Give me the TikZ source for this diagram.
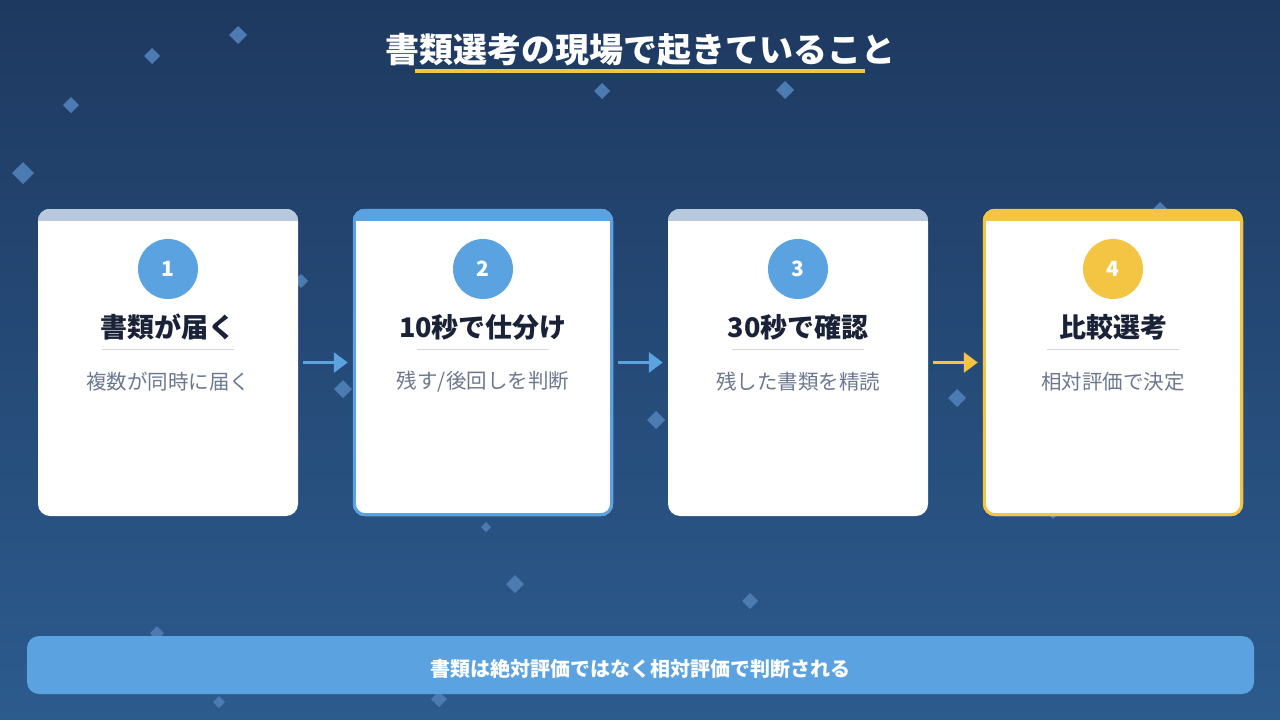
\documentclass[tikz,border=0pt]{standalone}
\usepackage{fontspec}
\setmainfont{Noto Sans CJK JP}
\usetikzlibrary{arrows.meta,shapes.geometric}
\definecolor{bgtop}{HTML}{1E3960}
\definecolor{bgbot}{HTML}{2C5B8E}
\definecolor{accblue}{HTML}{5AA3E0}
\definecolor{accyel}{HTML}{F4C543}
\definecolor{bargray}{HTML}{B9C9DD}
\definecolor{titledark}{HTML}{1A2238}
\definecolor{subgray}{HTML}{6B7890}
\definecolor{sepgray}{HTML}{D3D8E0}
\definecolor{diacol}{HTML}{4C7BB2}
\tikzset{
  cardbox/.style={draw=none, fill=white, rounded corners=12pt, minimum width=260pt, minimum height=307pt, inner sep=0pt},
  numcircle/.style={circle, minimum size=60pt, inner sep=0pt, text=white, font=\bfseries\fontsize{21}{23}\selectfont},
  cardtitle/.style={text=titledark, font=\bfseries\fontsize{27}{29}\selectfont, inner sep=0pt},
  cardsub/.style={text=subgray, font=\fontsize{20.5}{22}\selectfont, inner sep=0pt},
  flowarrow/.style={line width=3pt, -{Triangle[length=14pt,width=20pt]}},
  dia/.style={fill=diacol}
}
\begin{document}
\begin{tikzpicture}[x=1pt,y=-1pt]
\useasboundingbox (0,0) rectangle (1280,720);
\shade[top color=bgtop, bottom color=bgbot] (0,0) rectangle (1280,720);
% diamonds
\foreach \dx/\dy/\r in {238/35/9,152/56/8,71/105/8,23/173/11,602/91/8,785/90/9,1160/210/8,301/281/7,343/389/9,656/420/9,957/398/9,486/527/5,515/584/9,750/601/8,157/633/7,219/702/6,439/699/8,1053/511/8}
  \fill[dia] (\dx,\dy) +(0,-\r) -- +(\r,0) -- +(0,\r) -- +(-\r,0) -- cycle;
% title
\node[text=white, font=\bfseries\fontsize{34}{36}\selectfont, inner sep=0pt] (title) at (640,50) {書類選考の現場で起きていること};
\draw[accyel, line width=4pt] (415,71) -- (865,71);
% cards
\foreach \i/\cx/\barc/\circc/\ttl/\sub in {
  1/168/bargray/accblue/書類が届く/複数が同時に届く,
  2/483/accblue/accblue/10秒で仕分け/残す{/}後回しを判断,
  3/798/bargray/accblue/30秒で確認/残した書類を精読,
  4/1113/accyel/accyel/比較選考/相対評価で決定}{
  \node[cardbox] (c\i) at (\cx,362.5) {};
  \begin{scope}
    \clip[rounded corners=12pt] (c\i.north west) rectangle (c\i.south east);
    \fill[\barc] (c\i.north west) rectangle ([yshift=-12pt]c\i.north east);
  \end{scope}
  \node[numcircle, fill=\circc] (n\i) at (\cx,269) {\i};
  \node[cardtitle] (t\i) at (\cx,327) {\ttl};
  \draw[sepgray, line width=0.8pt] ([xshift=-66pt]t\i.center |- 0,349) coordinate (sl\i) -- ([xshift=66pt]t\i.center |- 0,349) coordinate (sr\i);
  \node[cardsub] (s\i) at (\cx,382) {\sub};
}
\draw[accblue, line width=3pt, rounded corners=11pt] ([shift={(1.5pt,-1.5pt)}]c2.north west) rectangle ([shift={(-1.5pt,1.5pt)}]c2.south east);
\draw[accyel, line width=3pt, rounded corners=11pt] ([shift={(1.5pt,-1.5pt)}]c4.north west) rectangle ([shift={(-1.5pt,1.5pt)}]c4.south east);
% arrows
\draw[flowarrow, accblue] ([xshift=5pt]c1.east) -- ([xshift=-5pt]c2.west);
\draw[flowarrow, accblue] ([xshift=5pt]c2.east) -- ([xshift=-5pt]c3.west);
\draw[flowarrow, accyel] ([xshift=5pt]c3.east) -- ([xshift=-5pt]c4.west);
% bottom bar
\node[fill=accblue, rounded corners=12pt, minimum width=1227pt, minimum height=58pt, inner sep=0pt] (bar) at (640.5,665) {};
\node[text=white, font=\bfseries\fontsize{20}{22}\selectfont, inner sep=0pt] (bartext) at (640,669) {書類は絶対評価ではなく相対評価で判断される};
\end{tikzpicture}
\end{document}
